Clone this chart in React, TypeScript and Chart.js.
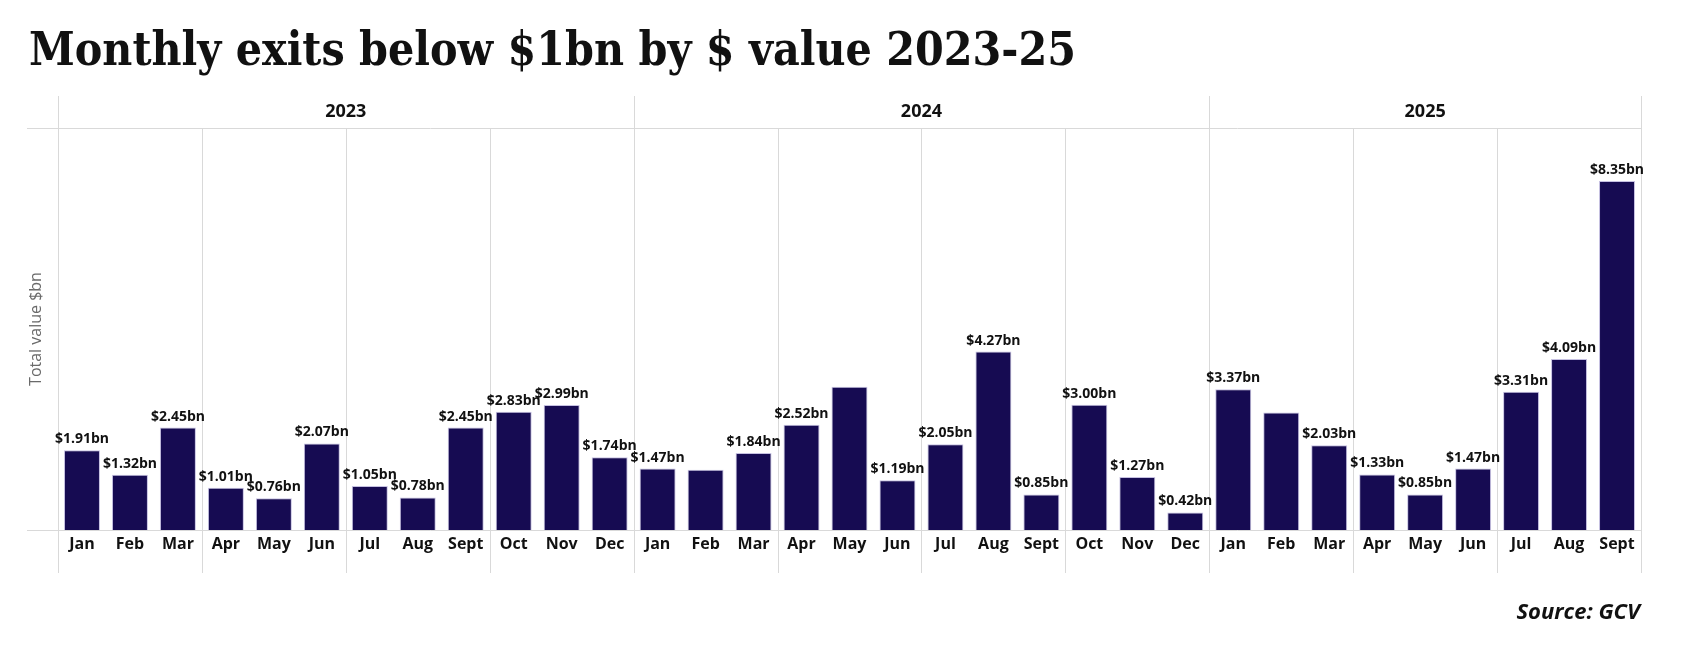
import React, { useEffect, useRef } from "react";
import { Chart, registerables } from "chart.js";

Chart.register(...registerables);

const TITLE = "Monthly exits below $1bn by $ value 2023-25";
const SOURCE = "Source: GCV";
const Y_TITLE = "Total value $bn";

const years = ["2023", "2024", "2025"];
const months2023 = ["Jan", "Feb", "Mar", "Apr", "May", "Jun", "Jul", "Aug", "Sept", "Oct", "Nov", "Dec"];
const months2024 = ["Jan", "Feb", "Mar", "Apr", "May", "Jun", "Jul", "Aug", "Sept", "Oct", "Nov", "Dec"];
const months2025 = ["Jan", "Feb", "Mar", "Apr", "May", "Jun", "Jul", "Aug", "Sept"];

const values2023 = [1.91, 1.32, 2.45, 1.01, 0.76, 2.07, 1.05, 0.78, 2.45, 2.83, 2.99, 1.74];
const values2024 = [1.47, 1.44, 1.84, 2.52, 3.43, 1.19, 2.05, 4.27, 0.85, 3.0, 1.27, 0.42];
const values2025 = [3.37, 2.81, 2.03, 1.33, 0.85, 1.47, 3.31, 4.09, 8.35];

// bars whose value label is not shown in the reference
const hiddenLabels = ["2024-Feb", "2024-May", "2025-Feb"];

const monthGroups = [months2023, months2024, months2025];
const valueGroups = [values2023, values2024, values2025];

const categories: string[] = monthGroups.flat();
const values: number[] = valueGroups.flat();
const keys: string[] = monthGroups.flatMap((ms, yi) => ms.map((m) => `${years[yi]}-${m}`));

const BAR = "#160b52";
const GRID = "#d9d9d9";
const TEXT = "#111111";

const decorPlugin = {
  id: "decor",
  beforeDatasetsDraw(chart: any) {
    const { ctx, chartArea, scales } = chart;
    const { top, bottom, right } = chartArea;
    const x = scales.x;
    const n = categories.length;
    const half = (x.getPixelForValue(1) - x.getPixelForValue(0)) / 2;
    const edge = (i: number) =>
      i < n ? x.getPixelForValue(i) - half : x.getPixelForValue(n - 1) + half;
    const crisp = (v: number) => Math.round(v) + 0.5;

    ctx.save();
    ctx.strokeStyle = GRID;
    ctx.lineWidth = 1;
    ctx.beginPath();
    ctx.moveTo(27, crisp(top));
    ctx.lineTo(right, crisp(top));
    ctx.moveTo(27, crisp(bottom));
    ctx.lineTo(right, crisp(bottom));
    ctx.stroke();

    const yearStarts: number[] = [];
    let acc = 0;
    monthGroups.forEach((g) => {
      yearStarts.push(acc);
      acc += g.length;
    });
    yearStarts.push(n);

    ctx.beginPath();
    for (let i = 0; i <= n; i += 3) {
      const px = crisp(edge(i));
      const isYear = yearStarts.includes(i);
      ctx.moveTo(px, isYear ? top - 32 : top);
      ctx.lineTo(px, bottom + 43);
    }
    ctx.stroke();

    ctx.fillStyle = TEXT;
    ctx.font = 'bold 18px "Open Sans"';
    ctx.textAlign = "center";
    ctx.textBaseline = "middle";
    for (let yi = 0; yi < years.length; yi++) {
      const a = edge(yearStarts[yi]);
      const b = edge(yearStarts[yi + 1]);
      ctx.fillText(years[yi], (a + b) / 2, top - 16);
    }

    ctx.save();
    ctx.translate(36, (top + bottom) / 2);
    ctx.rotate(-Math.PI / 2);
    ctx.font = '16px "Open Sans"';
    ctx.fillStyle = "#6a6a6a";
    ctx.fillText(Y_TITLE, 0, 0);
    ctx.restore();

    ctx.restore();
  },
  afterDatasetsDraw(chart: any) {
    const { ctx } = chart;
    const meta = chart.getDatasetMeta(0);
    ctx.save();
    ctx.fillStyle = TEXT;
    ctx.font = 'bold 14px "Open Sans"';
    ctx.textAlign = "center";
    ctx.textBaseline = "alphabetic";
    meta.data.forEach((bar: any, i: number) => {
      if (hiddenLabels.includes(keys[i])) return;
      ctx.fillText(`$${values[i].toFixed(2)}bn`, bar.x, bar.y - 7);
    });
    ctx.restore();
  },
  afterDraw(chart: any) {
    const { ctx, chartArea } = chart;
    ctx.save();
    ctx.fillStyle = TEXT;
    ctx.font = 'bold 47px "DejaVu Serif"';
    ctx.textAlign = "left";
    ctx.textBaseline = "alphabetic";
    const w = ctx.measureText(TITLE).width;
    const k = 1047 / w;
    ctx.translate(29, 65);
    ctx.scale(k, 1);
    ctx.fillText(TITLE, 0, 0);
    ctx.restore();

    ctx.save();
    ctx.fillStyle = TEXT;
    ctx.font = 'italic bold 22px "Open Sans"';
    ctx.textAlign = "right";
    ctx.textBaseline = "alphabetic";
    ctx.fillText(SOURCE, chartArea.right - 1, 619);
    ctx.restore();
  },
};

export default function App() {
  const ref = useRef<HTMLCanvasElement | null>(null);

  useEffect(() => {
    if (!ref.current) return;
    const chart = new Chart(ref.current, {
      type: "bar",
      data: {
        labels: categories,
        datasets: [
          {
            data: values,
            backgroundColor: BAR,
            borderColor: "rgba(150,140,200,0.55)",
            borderWidth: 1,
            barPercentage: 0.75,
            categoryPercentage: 1,
          },
        ],
      },
      options: {
        animation: false,
        responsive: true,
        maintainAspectRatio: false,
        layout: { padding: { left: 58, right: 62, top: 128, bottom: 96 } },
        plugins: {
          legend: { display: false },
          title: { display: false },
          tooltip: { enabled: false },
        },
        scales: {
          x: {
            offset: true,
            grid: { display: false, drawTicks: false },
            border: { display: false },
            ticks: {
              color: TEXT,
              font: { family: "Open Sans", size: 16, weight: "bold" },
              padding: 5,
              maxRotation: 0,
              autoSkip: false,
            },
            afterFit: (s: any) => {
              s.height = 30;
            },
          },
          y: {
            display: false,
            min: 0,
            max: 9.62,
          },
        },
      },
      plugins: [decorPlugin],
    });
    return () => chart.destroy();
  }, []);

  return (
    <div style={{ position: "absolute", left: 0, top: 0, width: 1703, height: 656, background: "#fff" }}>
      <canvas ref={ref} />
    </div>
  );
}
